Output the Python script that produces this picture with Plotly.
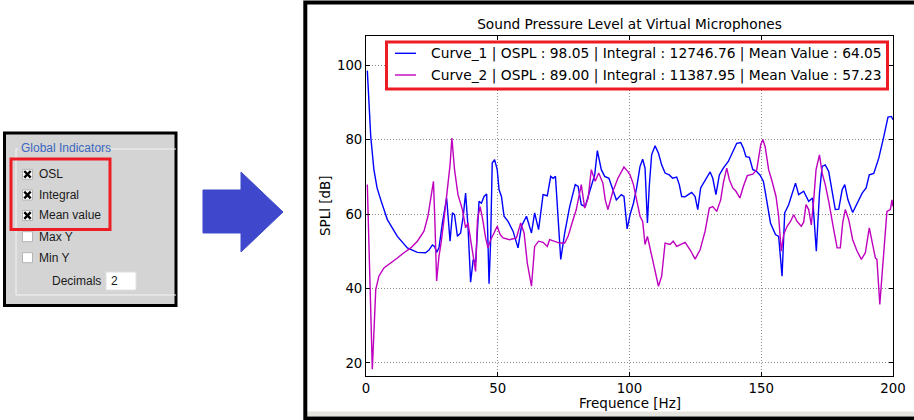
import plotly.graph_objects as go

# ---------------- data ----------------
curve_names = ["Curve_1", "Curve_2"]
ospl_values = [98.05, 89.00]
integral_values = [12746.76, 11387.95]
mean_values = [64.05, 57.23]

freq_1 = [0.5, 1.8, 3.0, 4.2, 5.6, 8.1, 11.9, 15.7, 19.5, 22.6, 23.9, 25.2, 26.1, 26.8, 27.7,
          29.0, 30.6, 31.9, 32.8, 33.6, 34.7, 35.9, 36.9, 37.8, 38.7, 39.7, 40.7, 41.6, 42.9,
          43.8, 44.8, 45.8, 46.7, 47.3, 47.9, 48.8, 49.8, 50.5, 51.4, 52.4, 53.9, 55.8, 57.7,
          59.0, 60.9, 62.8, 64.0, 65.5, 67.2, 68.8, 70.1, 71.0, 71.9, 73.9, 75.4, 77.3, 79.4,
          80.5, 81.7, 83.2, 84.9, 86.8, 87.8, 89.3, 90.6, 92.2, 93.7, 95.0, 96.9, 97.9, 99.1,
          100.2, 101.5, 102.7, 104.0, 105.0, 105.9, 106.8, 107.5, 108.4, 109.7, 111.0, 112.2,
          113.5, 115.1, 116.4, 117.9, 118.9, 119.8, 121.1, 122.3, 123.6, 124.9, 125.9, 127.0,
          128.7, 130.6, 131.6, 132.8, 134.1, 135.6, 137.5, 139.4, 140.7, 142.2, 143.2, 144.2,
          145.5, 146.8, 148.0, 149.5, 150.8, 151.6, 153.5, 155.4, 156.6, 157.9, 158.9, 160.4,
          163.0, 164.2, 166.1, 168.0, 169.5, 170.9, 172.1, 173.1, 174.3, 175.6, 176.9, 178.1,
          179.4, 180.7, 181.7, 182.9, 184.7, 186.4, 188.3, 189.8, 191.0, 192.7, 194.6, 196.5,
          198.1, 199.4, 200.0]
spl_1 = [98.5, 80.8, 71.9, 67.0, 63.8, 58.5, 54.0, 50.9, 49.7, 49.6, 50.3, 51.7, 51.2, 49.7, 50.9,
         57.6, 64.3, 52.7, 60.3, 59.8, 54.0, 54.9, 59.4, 65.6, 56.7, 41.7, 47.8, 47.0, 63.4,
         62.9, 64.7, 65.4, 41.3, 52.7, 73.7, 74.6, 71.9, 66.5, 64.7, 59.4, 58.0, 55.4, 50.9,
         56.7, 59.4, 54.9, 60.3, 55.8, 65.2, 64.9, 70.1, 69.6, 70.1, 47.8, 54.9, 62.0, 67.9,
         67.4, 62.5, 62.0, 66.1, 70.5, 77.0, 71.9, 70.1, 69.6, 66.5, 63.8, 65.2, 64.7, 56.0,
         59.8, 62.9, 67.0, 72.8, 74.7, 72.3, 57.6, 67.4, 75.9, 78.3, 76.3, 73.2,
         71.0, 70.5, 69.6, 69.9, 67.9, 64.7, 64.6, 65.2, 65.8, 64.7, 61.2, 67.0,
         69.2, 71.3, 69.6, 65.2, 70.5, 72.3, 74.1, 77.2, 79.0, 79.2, 77.7, 75.4,
         75.2, 71.9, 71.6, 70.5, 68.8, 65.6, 57.6, 54.5, 54.0, 43.3, 60.3, 62.5,
         68.3, 65.2, 66.1, 63.4, 64.3, 50.0, 65.6, 72.8, 73.2, 71.4, 66.5, 61.2,
         61.3, 66.5, 67.9, 63.8, 60.4, 62.9, 65.6, 67.0, 70.5, 70.9, 75.0, 80.8,
         86.0, 86.2, 85.3]

freq_2 = [0.5, 2.4, 3.7, 4.9, 6.8, 9.4, 11.9, 14.4, 17.0, 19.5, 22.0, 23.5, 24.5, 25.6, 26.2,
          26.8, 27.7, 28.6, 29.6, 30.9, 31.9, 32.6, 33.6, 34.9, 36.6, 37.8, 38.7, 40.0, 41.6,
          42.3, 43.3, 44.2, 45.4, 46.3, 47.3, 48.6, 49.8, 50.9, 52.0, 54.5, 57.1, 58.7, 60.0,
          61.2, 62.8, 64.0, 65.5, 67.2, 68.8, 69.7, 71.6, 73.5, 75.4, 76.7, 78.2, 79.8, 81.7,
          83.0, 84.3, 85.5, 87.0, 88.3, 89.9, 90.8, 91.8, 93.7, 95.6, 97.9, 99.4, 100.2, 101.5,
          102.7, 104.0, 105.0, 105.9, 106.8, 107.8, 109.3, 111.0, 112.2, 113.5, 115.4, 116.6,
          117.9, 119.4, 121.1, 123.0, 124.9, 126.8, 128.7, 130.3, 131.6, 133.1, 134.6, 135.6,
          136.9, 137.9, 139.2, 140.4, 141.9, 143.2, 144.7, 146.8, 148.3, 149.8, 150.6, 151.5,
          152.8, 154.1, 155.6, 156.6, 157.6, 158.5, 159.8, 161.1, 162.3, 163.6, 165.2, 166.1,
          167.0, 168.0, 169.0, 169.9, 170.8, 172.1, 173.1, 174.3, 175.6, 177.5, 178.8, 180.0,
          180.9, 181.9, 183.2, 184.7, 186.4, 188.0, 189.5, 191.0, 192.3, 193.3, 193.9, 195.0,
          195.9, 196.9, 197.7, 199.0, 199.6, 200.0]
spl_2 = [67.9, 18.3, 39.7, 43.3, 45.5, 47.0, 48.2, 49.6, 50.9, 52.7, 55.4, 59.4, 63.8, 68.8, 56.7,
         42.0, 48.7, 52.7, 58.5, 66.1, 73.2, 80.4, 71.9, 65.2, 61.2, 56.3, 57.6, 51.8, 44.6,
         58.5, 62.0, 58.9, 53.6, 50.9, 53.1, 54.9, 56.7, 54.5, 53.6, 53.1, 53.6, 57.6, 54.9,
         46.9, 40.6, 51.3, 52.7, 52.4, 51.3, 53.1, 52.7, 52.2, 52.2, 54.0, 57.6, 61.2, 67.9,
         61.6, 64.3, 71.9, 68.8, 71.0, 68.3, 63.8, 61.2, 66.1, 69.6, 72.6, 71.4, 70.5, 67.9,
         63.4, 59.4, 58.0, 51.8, 54.0, 50.9, 46.0, 40.6, 43.3, 52.2, 51.8, 52.7,
         51.3, 51.8, 52.4, 50.4, 47.9, 50.4, 55.4, 61.6, 62.0, 60.7, 63.8, 68.3,
         72.3, 69.2, 67.0, 66.1, 64.3, 67.4, 70.3, 70.7, 71.9, 78.6, 80.0, 78.0,
         71.9, 68.8, 64.7, 59.4, 50.0, 54.5, 56.7, 58.0, 59.8, 58.0, 56.7, 57.8,
         62.5, 61.2, 57.1, 63.8, 71.9, 75.9, 71.0, 67.9, 63.4, 55.8, 50.9, 50.9,
         57.6, 61.2, 58.5, 53.1, 50.0, 47.8, 49.6, 56.3, 52.2, 48.2, 47.8, 35.7,
         44.2, 54.9, 60.7, 61.2, 63.8, 62.0]

x_ticks = [0, 50, 100, 150, 200]
y_ticks = [20, 40, 60, 80, 100]

panel_title = "Global Indicators"
panel_options = ["OSL", "Integral", "Mean value", "Max Y", "Min Y"]
panel_checked = [True, True, True, False, False]
decimals_label = "Decimals"
decimals_value = "2"

# ---------------- layout helpers ----------------
W, H = 914, 420
FONT = "DejaVu Sans"
UI_FONT = "Liberation Sans"


def px(x):
    return x / W


def py(y):
    return 1 - y / H


shapes = []
annos = []

fig = go.Figure()
colors = ["#0000ff", "#bf00bf"]
labels = []
for i, (fx, fy) in enumerate([(freq_1, spl_1), (freq_2, spl_2)]):
    label = (f"{curve_names[i]} | OSPL : {ospl_values[i]:.2f} | Integral : "
             f"{integral_values[i]:.2f} | Mean Value : {mean_values[i]:.2f}")
    labels.append(label)
    fig.add_trace(go.Scatter(x=fx, y=fy, mode="lines", name=label, showlegend=False,
                             line=dict(color=colors[i], width=1.4)))

# ---- legend box (drawn, red frame) ----
shapes.append(dict(type="rect", xref="paper", yref="paper", x0=px(386.5), x1=px(887.5), y0=py(42), y1=py(89),
                   fillcolor="white", line=dict(color="#ed1c24", width=3), layer="above"))
legend_y = [53.3, 75.0]
for i, (lab, ly) in enumerate(zip(labels, legend_y)):
    shapes.append(dict(type="line", xref="paper", yref="paper", x0=px(395), x1=px(416), y0=py(ly), y1=py(ly),
                       line=dict(color=colors[i], width=1.4), layer="above"))
    annos.append(dict(text=lab, x=px(429), y=py(ly), xref="paper", yref="paper", xanchor="left",
                      yanchor="middle", showarrow=False, font=dict(family=FONT, size=13.8, color="black")))

# ---- left UI panel ----
shapes.append(dict(type="rect", xref="paper", yref="paper", x0=px(4.5), x1=px(176), y0=py(133), y1=py(305.5),
                   fillcolor="#d4d4d4", line=dict(color="black", width=3), layer="below"))
for (x0, y0, x1, y1) in [(16, 149, 16, 295), (16, 295, 176, 295), (108, 149, 176, 149), (16, 149, 18, 149)]:
    shapes.append(dict(type="line", xref="paper", yref="paper", x0=px(x0), y0=py(y0), x1=px(x1), y1=py(y1),
                       line=dict(color="#f4f4f4", width=1)))
annos.append(dict(text=panel_title, x=px(19), y=py(148), xref="paper", yref="paper", xanchor="left",
                  yanchor="middle", showarrow=False, font=dict(family=UI_FONT, size=12, color="#3b67c0")))
row_y = [174.3, 195, 215.5, 236.7, 257.7]
for lab, yy, chk in zip(panel_options, row_y, panel_checked):
    shapes.append(dict(type="rect", xref="paper", yref="paper", x0=px(22.5), x1=px(32.5), y0=py(yy - 5), y1=py(yy + 5),
                       fillcolor="white", line=dict(color="#b4b4b4", width=1)))
    if chk:
        for (a, b, c, d) in [(24.3, yy - 3.3, 30.7, yy + 3.3), (24.3, yy + 3.3, 30.7, yy - 3.3)]:
            shapes.append(dict(type="line", xref="paper", yref="paper", x0=px(a), y0=py(b), x1=px(c), y1=py(d),
                               line=dict(color="black", width=2.4)))
    annos.append(dict(text=lab, x=px(37), y=py(yy), xref="paper", yref="paper", xanchor="left", yanchor="middle",
                      showarrow=False, font=dict(family=UI_FONT, size=12, color="#1a1a1a")))
annos.append(dict(text=decimals_label, x=px(50), y=py(281), xref="paper", yref="paper", xanchor="left",
                  yanchor="middle", showarrow=False, font=dict(family=UI_FONT, size=12, color="#1a1a1a")))
shapes.append(dict(type="rect", xref="paper", yref="paper", x0=px(106), x1=px(136), y0=py(272), y1=py(290),
                   fillcolor="white", line=dict(color="#e0e0e0", width=1)))
annos.append(dict(text=decimals_value, x=px(108.5), y=py(281), xref="paper", yref="paper", xanchor="left",
                  yanchor="middle", showarrow=False, font=dict(family=UI_FONT, size=12, color="#1a1a1a")))
shapes.append(dict(type="rect", xref="paper", yref="paper", x0=px(11), x1=px(110), y0=py(159), y1=py(229.5),
                   line=dict(color="#ed1c24", width=3)))

# ---- arrow ----
arrow_pts = [(203, 190), (241, 190), (241, 172), (283, 212), (241, 252), (241, 233), (203, 233)]
path = "M " + " L ".join(f"{px(a):.5f},{py(b):.5f}" for a, b in arrow_pts) + " Z"
shapes.append(dict(type="path", xref="paper", yref="paper", path=path, fillcolor="#3f48cc",
                   line=dict(color="#3f48cc", width=1)))

# ---- right panel frame ----
shapes.append(dict(type="rect", xref="paper", yref="paper", x0=px(307), x1=px(916), y0=py(411.5), y1=py(416),
                   fillcolor="#e6e4de", line=dict(width=0), layer="below"))
shapes.append(dict(type="rect", xref="paper", yref="paper", x0=px(305.3), x1=px(920), y0=py(2.5), y1=py(418.5),
                   line=dict(color="black", width=4)))

# axis titles
annos.append(dict(text="Frequence [Hz]", x=px(629.5), y=py(402.5), xref="paper", yref="paper", xanchor="center",
                  yanchor="middle", showarrow=False, font=dict(family=FONT, size=13.5, color="black")))
annos.append(dict(text="SPLl [dB]", x=px(325), y=py(206), xref="paper", yref="paper", xanchor="center",
                  yanchor="middle", showarrow=False, textangle=-90,
                  font=dict(family=FONT, size=13.5, color="black")))

axis_common = dict(showline=True, linecolor="black", linewidth=1, mirror="ticks", ticks="inside",
                   ticklen=4, tickcolor="black", showgrid=True, gridcolor="#8a8a8a", griddash="1px,2px",
                   gridwidth=1, zeroline=False, automargin=False,
                   tickfont=dict(family=FONT, size=13.3, color="black"))

fig.update_layout(
    width=W, height=H, autosize=False, margin=dict(l=0, r=0, t=0, b=0, pad=0, autoexpand=False),
    paper_bgcolor="white", plot_bgcolor="white",
    title=dict(text="Sound Pressure Level at Virtual Microphones", x=px(629.5), xanchor="center",
               y=py(24), yanchor="middle", yref="container", font=dict(family=FONT, size=13.7, color="black")),
    xaxis=dict(domain=[px(366), px(893)], range=[0, 200], tickvals=x_ticks, **axis_common),
    yaxis=dict(domain=[py(376), py(36)], range=[16.5, 107.8], tickvals=y_ticks, **axis_common),
    showlegend=False,
    shapes=shapes, annotations=annos,
)

fig.write_html("out.html", config={"displayModeBar": False, "responsive": False},
               post_script="document.body.style.margin='0px';document.body.style.overflow='hidden';")
